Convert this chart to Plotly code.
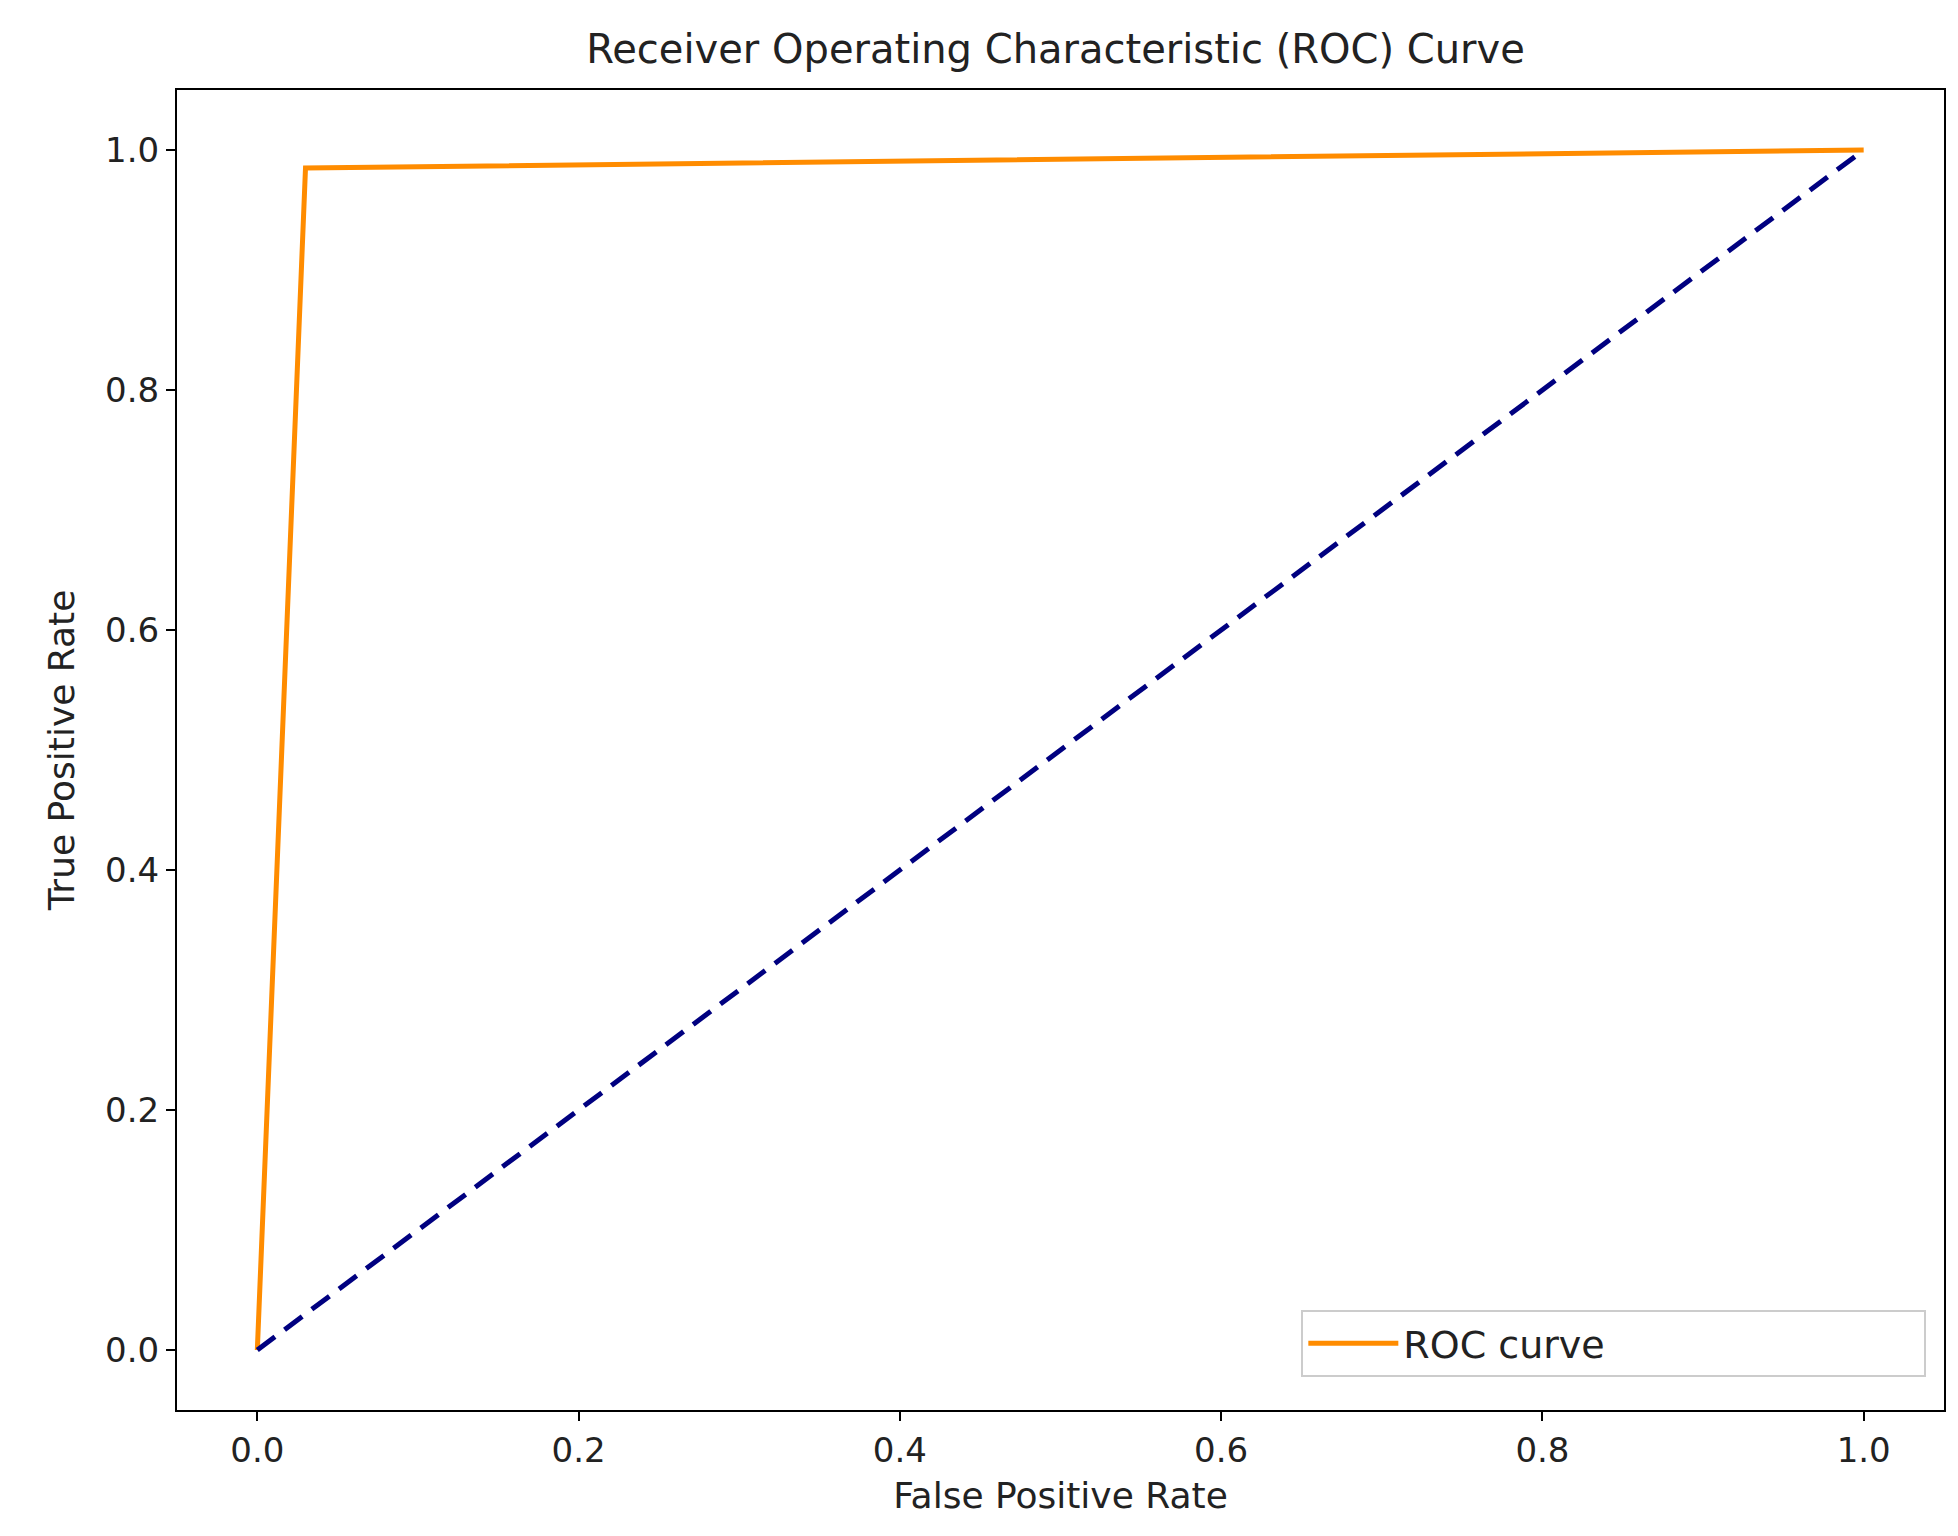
import plotly.graph_objects as go

fpr = [0.0, 0.03, 1.0]
tpr = [0.0, 0.985, 1.0]
diag_x = [0.0, 1.0]
diag_y = [0.0, 1.0]
tick_vals = [0.0, 0.2, 0.4, 0.6, 0.8, 1.0]
tick_text = ["0.0", "0.2", "0.4", "0.6", "0.8", "1.0"]

fig = go.Figure()
fig.add_trace(go.Scatter(x=fpr, y=tpr, mode="lines",
                         name="ROC curve" + "\u00a0" * 26,
                         line={"color": "darkorange", "width": 5}))
fig.add_trace(go.Scatter(x=diag_x, y=diag_y, mode="lines", showlegend=False,
                         line={"color": "navy", "width": 5, "dash": "22px,12px"}))

axis = dict(range=[-0.05, 1.05], tickvals=tick_vals, ticktext=tick_text,
            showgrid=False, zeroline=False, showline=True, mirror=True,
            linecolor="black", linewidth=2, ticks="outside", ticklen=9,
            tickwidth=2, tickcolor="black", tickfont={"size": 34})

fig.update_layout(
    width=1958, height=1536,
    paper_bgcolor="white", plot_bgcolor="white",
    font={"family": "DejaVu Sans", "color": "#222", "size": 34},
    title={"text": "Receiver Operating Characteristic (ROC) Curve", "x": 0.535,
           "xanchor": "center", "y": 0.973, "yanchor": "middle", "font": {"size": 40}},
    margin={"l": 169, "r": 22, "t": 82, "b": 134},
    xaxis={**axis, "title": {"text": "False Positive Rate", "standoff": 14, "font": {"size": 36}}},
    yaxis={**axis, "title": {"text": "True Positive Rate", "standoff": 20, "font": {"size": 36}}},
    legend={"x": 0.99, "y": 0.025, "xanchor": "right", "yanchor": "bottom",
            "bordercolor": "#ccc", "borderwidth": 2, "bgcolor": "white",
            "font": {"size": 38}, "itemwidth": 90},
)

fig.write_html("out.html")
